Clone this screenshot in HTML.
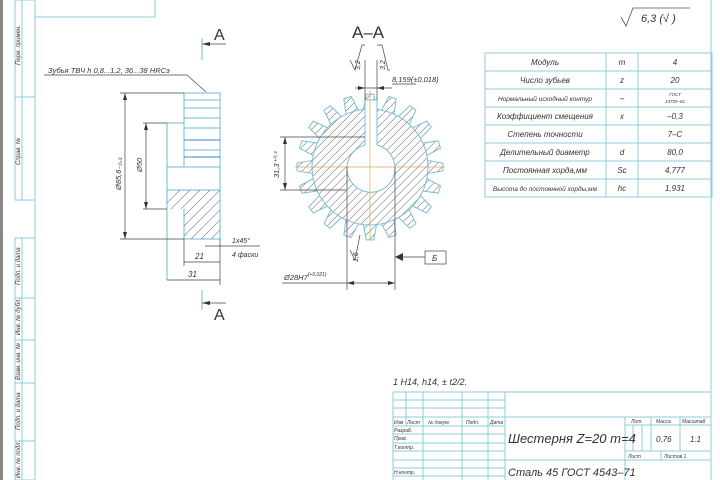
<!DOCTYPE html>
<html><head><meta charset="utf-8"><style>
body{margin:0;background:#fff}
svg{display:block}
text{font-family:"Liberation Sans",sans-serif;font-style:italic;fill:#333}
</style></head><body>
<svg width="720" height="480" viewBox="0 0 720 480" xmlns="http://www.w3.org/2000/svg">
<defs>
<polyline id="tooth" points="-6.57,-57.6 -3.82,-72.9 3.82,-72.9 6.57,-57.6"/>
<polygon id="toothf" points="-6.57,-57.6 -3.82,-72.9 3.82,-72.9 6.57,-57.6 0,0"/>
<clipPath id="gc">
<circle cx="370" cy="167" r="58"/>
<use href="#toothf" transform="translate(370,167) rotate(0)"/><use href="#toothf" transform="translate(370,167) rotate(18)"/>
<use href="#toothf" transform="translate(370,167) rotate(36)"/><use href="#toothf" transform="translate(370,167) rotate(54)"/>
<use href="#toothf" transform="translate(370,167) rotate(72)"/><use href="#toothf" transform="translate(370,167) rotate(90)"/>
<use href="#toothf" transform="translate(370,167) rotate(108)"/><use href="#toothf" transform="translate(370,167) rotate(126)"/>
<use href="#toothf" transform="translate(370,167) rotate(144)"/><use href="#toothf" transform="translate(370,167) rotate(162)"/>
<use href="#toothf" transform="translate(370,167) rotate(180)"/><use href="#toothf" transform="translate(370,167) rotate(198)"/>
<use href="#toothf" transform="translate(370,167) rotate(216)"/><use href="#toothf" transform="translate(370,167) rotate(234)"/>
<use href="#toothf" transform="translate(370,167) rotate(252)"/><use href="#toothf" transform="translate(370,167) rotate(270)"/>
<use href="#toothf" transform="translate(370,167) rotate(288)"/><use href="#toothf" transform="translate(370,167) rotate(306)"/>
<use href="#toothf" transform="translate(370,167) rotate(324)"/><use href="#toothf" transform="translate(370,167) rotate(342)"/>
</clipPath>
</defs>
<rect x="0" y="0" width="3" height="480" fill="#888"/>
<g stroke="#8ccbdc" stroke-width="1" fill="none">
<line x1="35" y1="0" x2="35" y2="480"/>
<line x1="711" y1="0" x2="711" y2="480"/>
<polyline points="35,17 155,17 155,0"/>
<rect x="15" y="0" width="20" height="200"/>
<line x1="22" y1="0" x2="22" y2="200"/><line x1="15" y1="97" x2="35" y2="97"/>
<rect x="15" y="238" width="20" height="242"/>
<line x1="22" y1="238" x2="22" y2="480"/>
<line x1="15" y1="298" x2="35" y2="298"/><line x1="15" y1="340" x2="35" y2="340"/>
<line x1="15" y1="383" x2="35" y2="383"/><line x1="15" y1="441" x2="35" y2="441"/>
</g>
<g font-size="6" >
<text transform="translate(20,65) rotate(-90)">Перв. примен.</text>
<text transform="translate(20,165) rotate(-90)">Справ. №</text>
<text transform="translate(20,285) rotate(-90)">Подп. и дата</text>
<text transform="translate(20,335) rotate(-90)">Инв. № дубл.</text>
<text transform="translate(20,380) rotate(-90)">Взам. инв. №</text>
<text transform="translate(20,430) rotate(-90)">Подп. и дата</text>
<text transform="translate(20,478) rotate(-90)">Инв. № подл.</text>
</g>

<!-- side view -->
<g stroke="#6fb8d6" fill="none" stroke-width="1">
<rect x="184" y="93" width="36" height="74"/>
<line x1="184" y1="100" x2="220" y2="100"/><line x1="184" y1="108" x2="220" y2="108"/>
<line x1="184" y1="118" x2="220" y2="118"/><line x1="184" y1="128" x2="220" y2="128"/>
<line x1="184" y1="140" x2="220" y2="140" stroke="#3a7fd0"/><line x1="184" y1="150" x2="220" y2="150"/>
<line x1="184" y1="157" x2="220" y2="157" stroke="#3a7fd0"/>
<polyline points="184,123 167,123 167,280"/>
<polyline points="184,209 184,239 220,239 220,167"/>
<line x1="167" y1="190" x2="220" y2="190"/>
<line x1="167" y1="167" x2="220" y2="167"/>
</g>
<clipPath id="hc"><polygon points="167,190 220,190 220,239 184,239 184,209 167,209"/></clipPath>
<g clip-path="url(#hc)" stroke="#777" stroke-width="0.6">
<path d="M150,250 L220,180 M160,250 L230,180 M170,250 L240,180 M180,250 L250,180 M190,250 L260,180 M200,250 L270,180 M140,250 L210,180 M130,250 L200,180 M120,250 L190,180"/>
</g>
<g stroke="#444" stroke-width="0.7" fill="none">
<line x1="120" y1="93" x2="184" y2="93"/><line x1="120" y1="239" x2="184" y2="239"/>
<line x1="125" y1="93" x2="125" y2="239"/>
<line x1="143" y1="123" x2="167" y2="123"/><line x1="143" y1="209" x2="167" y2="209"/>
<line x1="146" y1="123" x2="146" y2="209"/>
<line x1="184" y1="239" x2="184" y2="266"/><line x1="220" y1="239" x2="220" y2="285"/>
<line x1="184" y1="262" x2="220" y2="262"/><line x1="167" y1="280" x2="220" y2="280"/>
<line x1="205" y1="246" x2="260" y2="246"/>
<line x1="44" y1="75" x2="187" y2="75"/><line x1="187" y1="75" x2="206" y2="92"/>
<line x1="202" y1="38" x2="202" y2="60" stroke="#3aa" /><line x1="202" y1="44" x2="226" y2="44"/>
<line x1="202" y1="290" x2="202" y2="310" stroke="#3aa"/><line x1="202" y1="303" x2="226" y2="303"/>
</g>
<g fill="#333">
<polygon points="202,44 210,42 210,46"/><polygon points="202,303 210,301 210,305"/>
<polygon points="125,93 123,100 127,100"/><polygon points="125,239 123,232 127,232"/>
<polygon points="146,123 144,130 148,130"/><polygon points="146,209 144,202 148,202"/>
</g>
<text x="214" y="40" font-size="16" style="font-style:normal">A</text>
<text x="214" y="320" font-size="16" style="font-style:normal">A</text>
<text x="48" y="73" font-size="7.5">Зубья ТВЧ h 0,8...1,2, 36...38 HRCэ</text>
<text transform="translate(121,190) rotate(-90)" font-size="7.5">Ø85,6₋₀,₃</text>
<text transform="translate(142,172) rotate(-90)" font-size="7.5">Ø50</text>
<text x="195" y="259" font-size="8">21</text>
<text x="188" y="277" font-size="8">31</text>
<text x="232" y="243" font-size="7">1х45°</text>
<text x="232" y="257" font-size="7">4 фаски</text>

<!-- gear front -->
<g clip-path="url(#gc)" stroke="#777" stroke-width="0.6">
<path d="M200,337 L540,-3 M208,337 L548,-3 M216,337 L556,-3 M224,337 L564,-3 M232,337 L572,-3 M240,337 L580,-3 M248,337 L588,-3 M256,337 L596,-3 M264,337 L604,-3 M272,337 L612,-3 M280,337 L620,-3 M288,337 L628,-3 M296,337 L636,-3 M304,337 L644,-3 M312,337 L652,-3 M192,337 L532,-3 M184,337 L524,-3 M176,337 L516,-3 M168,337 L508,-3 M160,337 L500,-3 M152,337 L492,-3 M144,337 L484,-3 M136,337 L476,-3 M128,337 L468,-3 M120,337 L460,-3 M112,337 L452,-3 M104,337 L444,-3 M96,337 L436,-3 M88,337 L428,-3 M80,337 L420,-3"/>
</g>
<g stroke="#7cbfd8" stroke-width="1" fill="none">
<circle cx="370" cy="167" r="58"/>
<use href="#tooth" transform="translate(370,167) rotate(0)"/><use href="#tooth" transform="translate(370,167) rotate(18)"/>
<use href="#tooth" transform="translate(370,167) rotate(36)"/><use href="#tooth" transform="translate(370,167) rotate(54)"/>
<use href="#tooth" transform="translate(370,167) rotate(72)"/><use href="#tooth" transform="translate(370,167) rotate(90)"/>
<use href="#tooth" transform="translate(370,167) rotate(108)"/><use href="#tooth" transform="translate(370,167) rotate(126)"/>
<use href="#tooth" transform="translate(370,167) rotate(144)"/><use href="#tooth" transform="translate(370,167) rotate(162)"/>
<use href="#tooth" transform="translate(370,167) rotate(180)"/><use href="#tooth" transform="translate(370,167) rotate(198)"/>
<use href="#tooth" transform="translate(370,167) rotate(216)"/><use href="#tooth" transform="translate(370,167) rotate(234)"/>
<use href="#tooth" transform="translate(370,167) rotate(252)"/><use href="#tooth" transform="translate(370,167) rotate(270)"/>
<use href="#tooth" transform="translate(370,167) rotate(288)"/><use href="#tooth" transform="translate(370,167) rotate(306)"/>
<use href="#tooth" transform="translate(370,167) rotate(324)"/><use href="#tooth" transform="translate(370,167) rotate(342)"/>
<path d="M365,145 L365,100 L377,100 L377,145 A24,24 0 1 1 365,145Z" fill="#fff"/>
</g>
<g stroke="#d9a85a" stroke-width="0.7"><line x1="295" y1="167" x2="445" y2="167"/><line x1="370" y1="90" x2="370" y2="240"/></g>
<g stroke="#444" stroke-width="0.7" fill="none">
<line x1="365" y1="60" x2="365" y2="100"/><line x1="377" y1="60" x2="377" y2="100"/>
<line x1="355" y1="88" x2="392" y2="88"/>
<line x1="392" y1="84" x2="416" y2="84"/>
<line x1="280" y1="137" x2="365" y2="137"/><line x1="280" y1="190" x2="346" y2="190"/>
<line x1="285" y1="137" x2="285" y2="190"/>
<line x1="347" y1="167" x2="347" y2="290"/><line x1="395" y1="167" x2="395" y2="290"/>
<line x1="347" y1="283" x2="395" y2="283"/><line x1="282" y1="283" x2="347" y2="283"/>
<line x1="395" y1="257" x2="425" y2="257"/>
<rect x="425" y="251" width="21" height="13"/>
<polyline points="350,60 355,70 362,45 365,45"/><polyline points="377,45 382,45 388,70 390,70"/>
<polyline points="350,250 355,260 360,235"/>
</g>
<g fill="#333">
<polygon points="395,257 403,253 403,261"/>
<polygon points="365,88 358,86 358,90"/><polygon points="377,88 384,86 384,90"/>
<polygon points="285,137 283,144 287,144"/><polygon points="285,190 283,183 287,183"/>
<polygon points="347,283 354,281 354,285"/><polygon points="395,283 388,281 388,285"/>
</g>
<text x="352" y="38" font-size="17" style="font-style:normal">A–A</text>
<text transform="translate(360,70) rotate(-90)" font-size="7">3,2</text>
<text transform="translate(385,70) rotate(-90)" font-size="7">3,2</text>
<text x="392" y="82" font-size="7.5">8,159(±0,018)</text>
<text transform="translate(279,178) rotate(-90)" font-size="7.5">31,3⁺⁰·³</text>
<text transform="translate(358,262) rotate(-90)" font-size="7">1,6</text>
<text x="284" y="280" font-size="7.5">Ø28H7<tspan font-size="5" dy="-4">(+0,021)</tspan></text>
<text x="432" y="261" font-size="8">Б</text>

<!-- roughness -->
<polyline points="621,17 626,26 633,8 690,8" stroke="#555" fill="none" stroke-width="0.8"/>
<text x="641" y="22" font-size="11">6,3 (√ )</text>

<!-- table -->
<g stroke="#8ccbdc" fill="none" stroke-width="1">
<rect x="485" y="53" width="227" height="144"/>
<line x1="606" y1="53" x2="606" y2="197"/><line x1="638" y1="53" x2="638" y2="197"/>
<line x1="485" y1="71" x2="712" y2="71"/><line x1="485" y1="89" x2="712" y2="89"/>
<line x1="485" y1="107" x2="712" y2="107"/><line x1="485" y1="125" x2="712" y2="125"/>
<line x1="485" y1="143" x2="712" y2="143"/><line x1="485" y1="161" x2="712" y2="161"/>
<line x1="485" y1="179" x2="712" y2="179"/>
</g>
<g font-size="8" text-anchor="middle">
<text x="545" y="65">Модуль</text><text x="622" y="65">m</text><text x="675" y="65">4</text>
<text x="545" y="83">Число зубьев</text><text x="622" y="83">z</text><text x="675" y="83">20</text>
<text x="545" y="101" font-size="6.5">Нормальный исходный контур</text><text x="622" y="101">–</text>
<text x="675" y="96" font-size="4.5">ГОСТ</text><text x="675" y="103" font-size="4.5">13755–81</text>
<text x="545" y="119">Коэффициент смещения</text><text x="622" y="119">x</text><text x="675" y="119">–0,3</text>
<text x="545" y="137">Степень точности</text><text x="675" y="137">7–С</text>
<text x="545" y="155">Делительный диаметр</text><text x="622" y="155">d</text><text x="675" y="155">80,0</text>
<text x="545" y="173">Постоянная хорда,мм</text><text x="622" y="173">Sc</text><text x="675" y="173">4,777</text>
<text x="545" y="191" font-size="6.5">Высота до постоянной хорды,мм</text><text x="622" y="191">hc</text><text x="675" y="191">1,931</text>
</g>

<text x="393" y="385" font-size="9">1 H14, h14, ± t2/2.</text>

<!-- title block -->
<g stroke="#8ccbdc" fill="none" stroke-width="1">
<line x1="393" y1="392" x2="711" y2="392"/>
<line x1="393" y1="392" x2="393" y2="480"/>
<line x1="406" y1="392" x2="406" y2="426"/><line x1="423" y1="392" x2="423" y2="480"/>
<line x1="462" y1="392" x2="462" y2="480"/><line x1="488" y1="392" x2="488" y2="480"/>
<line x1="505" y1="392" x2="505" y2="480"/>
<line x1="393" y1="400" x2="505" y2="400"/><line x1="393" y1="408" x2="505" y2="408"/>
<line x1="393" y1="417" x2="711" y2="417"/><line x1="393" y1="426" x2="505" y2="426"/>
<line x1="393" y1="434" x2="505" y2="434"/><line x1="393" y1="443" x2="505" y2="443"/>
<line x1="393" y1="451" x2="505" y2="451"/><line x1="393" y1="460" x2="711" y2="460"/>
<line x1="393" y1="468" x2="505" y2="468"/><line x1="393" y1="476" x2="505" y2="476"/>
<line x1="625" y1="417" x2="625" y2="480"/>
<line x1="625" y1="425" x2="711" y2="425"/><line x1="625" y1="451" x2="711" y2="451"/>
<line x1="651" y1="417" x2="651" y2="451"/><line x1="680" y1="417" x2="680" y2="451"/>
<line x1="633" y1="425" x2="633" y2="451"/><line x1="642" y1="425" x2="642" y2="451"/>
<line x1="661" y1="451" x2="661" y2="460"/>
</g>
<g font-size="5">
<text x="394" y="424">Изм</text><text x="407" y="424">Лист</text><text x="428" y="424">№ докум.</text><text x="466" y="424">Подп.</text><text x="490" y="424">Дата</text>
<text x="394" y="432">Разраб.</text><text x="394" y="440">Пров.</text><text x="394" y="449">Т.контр.</text>
<text x="394" y="474">Н.контр.</text>
<text x="631" y="423">Лит.</text><text x="656" y="423">Масса</text><text x="682" y="423">Масштаб</text>
<text x="628" y="458">Лист</text><text x="664" y="458">Листов 1</text>
</g>
<text x="508" y="443" font-size="13">Шестерня Z=20 m=4</text>
<text x="508" y="476" font-size="11">Сталь 45  ГОСТ 4543–71</text>
<text x="656" y="442" font-size="8">0,76</text><text x="690" y="442" font-size="8">1:1</text>
</svg>
</body></html>
